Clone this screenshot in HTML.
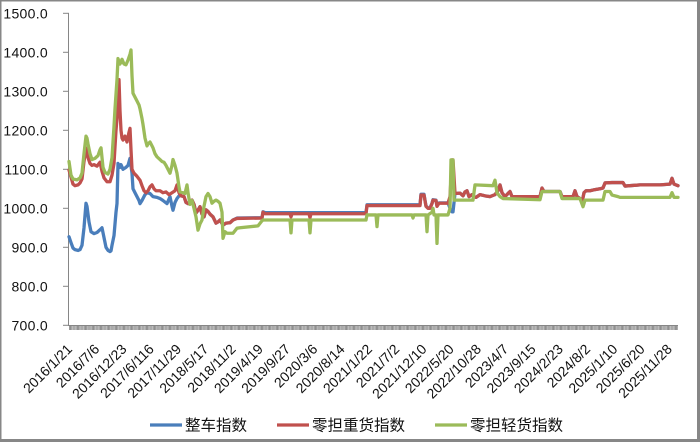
<!DOCTYPE html>
<html><head><meta charset="utf-8"><style>
html,body{margin:0;padding:0;background:#fff;}
svg{display:block;}
.yl{font-family:"Liberation Sans",sans-serif;font-size:14px;fill:#111;letter-spacing:0.3px;}
.xl{font-family:"Liberation Sans",sans-serif;font-size:14px;fill:#111;}
.lg{font-family:"Liberation Sans","Noto Sans CJK SC",sans-serif;font-size:15.5px;fill:#111;}
</style></head><body>
<svg width="700" height="442" viewBox="0 0 700 442" xmlns="http://www.w3.org/2000/svg">
<defs>
<pattern id="tk" x="69" y="0" width="1.15" height="10" patternUnits="userSpaceOnUse">
<rect x="0" y="0" width="0.75" height="10" fill="#7a7a7a"/>
</pattern>
</defs>
<rect width="700" height="442" fill="#878787"/>
<rect x="1.5" y="1.5" width="695.5" height="437.5" fill="#ffffff"/>

<!-- axes -->
<line x1="68.5" y1="13" x2="68.5" y2="326" stroke="#868686" stroke-width="1"/>
<g stroke="#868686" stroke-width="1">
<line x1="63" y1="13.3" x2="69" y2="13.3"/>
<line x1="63" y1="52.3" x2="69" y2="52.3"/>
<line x1="63" y1="91.3" x2="69" y2="91.3"/>
<line x1="63" y1="130.3" x2="69" y2="130.3"/>
<line x1="63" y1="169.3" x2="69" y2="169.3"/>
<line x1="63" y1="208.3" x2="69" y2="208.3"/>
<line x1="63" y1="247.3" x2="69" y2="247.3"/>
<line x1="63" y1="286.3" x2="69" y2="286.3"/>
<line x1="63" y1="325.3" x2="69" y2="325.3"/>
</g>
<rect x="69" y="325.5" width="609" height="4.5" fill="url(#tk)"/>
<line x1="68.5" y1="325.5" x2="678" y2="325.5" stroke="#868686" stroke-width="1"/>

<!-- y labels -->
<g class="yl" text-anchor="end">
<text x="48" y="18.5">1500.0</text>
<text x="48" y="57.5">1400.0</text>
<text x="48" y="96.5">1300.0</text>
<text x="48" y="135.5">1200.0</text>
<text x="48" y="174.5">1100.0</text>
<text x="48" y="213.5">1000.0</text>
<text x="48" y="252.5">900.0</text>
<text x="48" y="291.5">800.0</text>
<text x="48" y="330.5">700.0</text>
</g>

<!-- x labels -->
<g class="xl" text-anchor="end">
<text x="73" y="350" transform="rotate(-45 73 350)">2016/1/21</text>
<text x="100.27" y="350" transform="rotate(-45 100.27 350)">2016/7/6</text>
<text x="127.54" y="350" transform="rotate(-45 127.54 350)">2016/12/23</text>
<text x="154.81" y="350" transform="rotate(-45 154.81 350)">2017/6/116</text>
<text x="182.08" y="350" transform="rotate(-45 182.08 350)">2017/11/29</text>
<text x="209.35" y="350" transform="rotate(-45 209.35 350)">2018/5/17</text>
<text x="236.62" y="350" transform="rotate(-45 236.62 350)">2018/11/2</text>
<text x="263.89" y="350" transform="rotate(-45 263.89 350)">2019/4/19</text>
<text x="291.16" y="350" transform="rotate(-45 291.16 350)">2019/9/27</text>
<text x="318.43" y="350" transform="rotate(-45 318.43 350)">2020/3/6</text>
<text x="345.7" y="350" transform="rotate(-45 345.7 350)">2020/8/14</text>
<text x="372.97" y="350" transform="rotate(-45 372.97 350)">2021/1/22</text>
<text x="400.24" y="350" transform="rotate(-45 400.24 350)">2021/7/2</text>
<text x="427.51" y="350" transform="rotate(-45 427.51 350)">2021/12/10</text>
<text x="454.78" y="350" transform="rotate(-45 454.78 350)">2022/5/20</text>
<text x="482.05" y="350" transform="rotate(-45 482.05 350)">2022/10/28</text>
<text x="509.32" y="350" transform="rotate(-45 509.32 350)">2023/4/7</text>
<text x="536.59" y="350" transform="rotate(-45 536.59 350)">2023/9/15</text>
<text x="563.86" y="350" transform="rotate(-45 563.86 350)">2024/2/23</text>
<text x="591.13" y="350" transform="rotate(-45 591.13 350)">2024/8/2</text>
<text x="618.4" y="350" transform="rotate(-45 618.4 350)">2025/1/10</text>
<text x="645.67" y="350" transform="rotate(-45 645.67 350)">2025/6/20</text>
<text x="672.94" y="350" transform="rotate(-45 672.94 350)">2025/11/28</text>
</g>

<!-- series: value coords mapped with y = 598.3 - 0.39*v -->
<g transform="matrix(1 0 0 -0.39 0 598.3)" fill="none" stroke-width="3.3" stroke-linejoin="round" stroke-linecap="round">
<polyline vector-effect="non-scaling-stroke" stroke="#4A7EBB" points="69,927 71,912 73,898 75,894 78,892 80,894 82,905 84,950 86,1013 87,1005 89,965 91,940 94,935 97,938 100,945 102,950 104,925 106,900 108,892 110,889 111,891 112,905 114,930 116,990 117,1012 118,1115 120,1105 121,1112 123,1100 126,1105 128,1110 130,1128 132,1090 133,1050 135,1040 137,1030 139,1020 140,1012 142,1020 143,1025 145,1035 147,1040 150,1038 153,1030 157,1028 160,1025 163,1020 167,1012 170,1030 172,1005 173,995 175,1015 177,1025 180,1035 181,1032 184,1030 186,1015 188,1012 190,1018 192,1021 194,1010 196,988 198,995 200,1004 202,985 204,978 206,996 208,992 210,985 213,978 216,962 218,965 220,970 223,957 226,962 230,963 233,970 237,975 262,976 263,991 265,989 290,989 292,989 309,989 311,989 366,989 367,1009 420,1009 421,1036 424,1036 426,1006 428,1001 430,1001 432,1013 433,1022 436,1021 437,1006 439,1014 448,1014 450,1000 452,991 453,991 455,1038 460,1039 463,1032 465,1042 467,1045 469,1030 472,1035 474,1030 476,1028 480,1035 485,1032 490,1030 495,1035 498,1045 500,1060 502,1040 505,1030 508,1038 510,1043 512,1030 540,1030 542,1052 544,1043 560,1043 562,1030 573,1030 575,1045 577,1030 580,1025 582,1015 584,1040 586,1045 590,1045 595,1048 600,1050 603,1052 605,1065 612,1066 623,1066 625,1057 640,1060 660,1060 670,1062 672,1077 674,1062 678,1058"/>
<polyline vector-effect="non-scaling-stroke" stroke="#C0504D" points="69,1098 71,1080 73,1062 75,1058 78,1060 80,1065 82,1075 84,1120 86,1155 87,1145 88,1130 90,1115 92,1110 94,1112 97,1108 100,1118 102,1095 104,1078 107,1068 110,1068 112,1085 114,1115 116,1200 117,1230 118,1270 119,1330 120,1250 121,1200 122,1180 123,1175 125,1185 127,1170 129,1195 130,1205 131,1150 132,1100 134,1090 137,1082 140,1072 142,1058 144,1045 146,1040 148,1045 150,1055 152,1060 154,1050 156,1045 160,1045 163,1040 166,1042 169,1035 172,1040 175,1045 177,1060 179,1040 181,1032 184,1030 186,1015 188,1012 190,1018 192,1021 194,1010 196,988 198,995 200,1004 202,985 204,978 206,996 208,992 210,985 213,978 216,962 218,965 220,970 223,957 226,962 230,963 233,970 237,974 262,975 263,990 265,986 290,986 291,978 292,986 309,986 310,976 311,986 366,986 367,1007 420,1007 421,1034 424,1034 426,1005 428,1000 430,1000 432,1012 433,1021 436,1020 437,1005 439,1013 448,1013 450,1030 452,1124 453,1124 455,1038 460,1039 463,1032 465,1042 467,1045 469,1030 472,1035 474,1030 476,1028 480,1035 485,1032 490,1030 495,1035 498,1045 500,1060 502,1040 505,1030 508,1038 510,1043 512,1030 540,1030 542,1052 544,1043 560,1043 562,1030 573,1030 575,1045 577,1030 580,1025 582,1015 584,1040 586,1045 590,1045 595,1048 600,1050 603,1052 605,1065 612,1066 623,1066 625,1057 640,1060 660,1060 670,1062 672,1077 674,1062 678,1058"/>
<polyline vector-effect="non-scaling-stroke" stroke="#9BBB59" points="69,1120 71,1085 73,1075 77,1073 80,1078 82,1090 84,1140 86,1185 87,1180 88,1165 90,1140 92,1125 95,1128 98,1135 100,1150 101,1155 103,1105 105,1092 108,1088 110,1100 112,1130 113,1170 114,1210 115,1255 117,1330 118,1384 119,1375 120,1370 122,1382 124,1370 126,1368 128,1380 130,1395 131,1406 132,1340 133,1295 135,1285 137,1275 139,1265 140,1255 142,1230 143,1215 145,1180 147,1160 148,1165 150,1170 152,1160 153,1155 155,1140 157,1132 160,1125 162,1120 164,1118 166,1110 167,1105 169,1095 170,1090 172,1110 173,1125 175,1110 177,1090 179,1055 180,1042 183,1040 185,1038 187,1060 188,1040 190,1010 192,1020 194,1000 196,978 198,944 200,960 202,970 204,1005 206,1030 208,1038 210,1030 212,1013 214,1018 216,1021 218,1018 220,1013 222,990 223,923 225,940 227,936 233,936 237,949 240,950 258,955 262,968 263,970 290,970 291,937 292,970 309,970 310,937 311,970 366,970 367,983 376,983 377,953 378,983 412,983 413,975 414,983 426,983 427,940 428,983 432,990 433,1000 434,983 436,983 437,910 438,983 448,983 450,1000 451,1124 453,1124 454,1021 473,1021 475,1060 493,1058 495,1072 497,1040 500,1030 503,1025 540,1022 542,1043 560,1043 562,1025 580,1025 583,1004 585,1021 603,1021 605,1043 610,1043 612,1034 618,1030 620,1028 670,1028 672,1040 674,1028 678,1028"/>
</g>

<!-- legend -->
<line x1="150" y1="425" x2="182" y2="425" stroke="#4A7EBB" stroke-width="3.3"/>
<text class="lg" x="185" y="430.5">整车指数</text>
<line x1="277" y1="425" x2="309" y2="425" stroke="#C0504D" stroke-width="3.3"/>
<text class="lg" x="312" y="430.5">零担重货指数</text>
<line x1="435" y1="425" x2="467" y2="425" stroke="#9BBB59" stroke-width="3.3"/>
<text class="lg" x="470" y="430.5">零担轻货指数</text>
</svg>
</body></html>
